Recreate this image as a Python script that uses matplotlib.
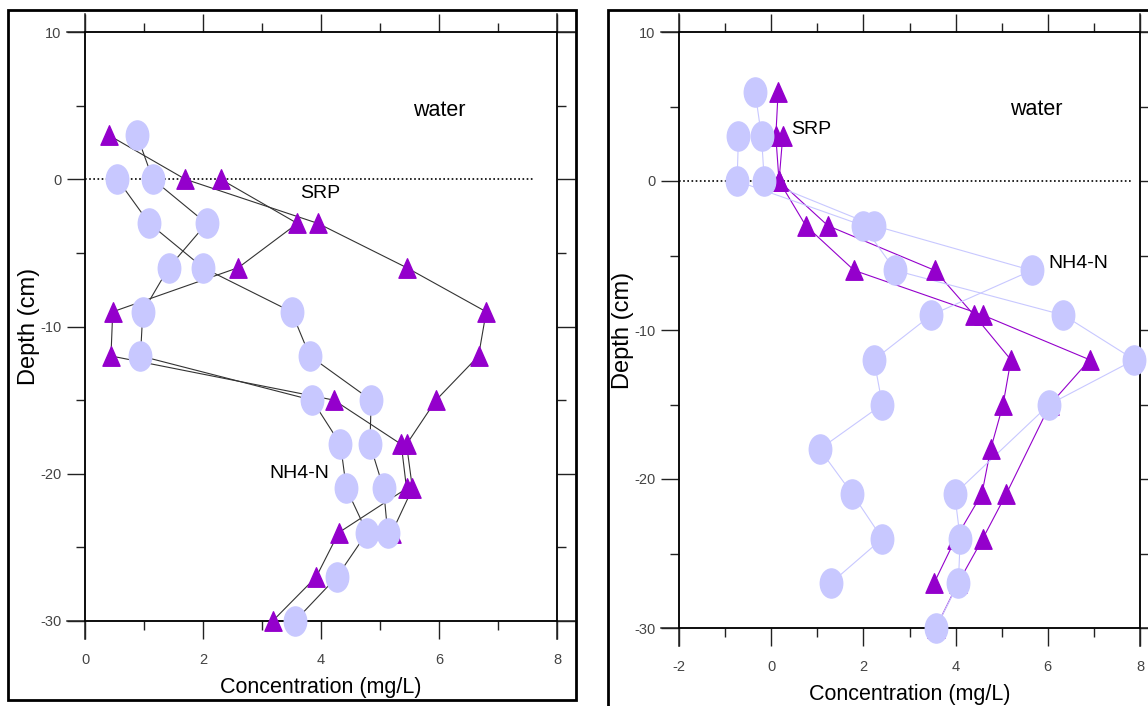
import matplotlib
matplotlib.use("Agg")
import matplotlib.pyplot as plt
from matplotlib.path import Path
from matplotlib.patches import Rectangle
from matplotlib.transforms import Affine2D

plt.rcParams['font.family'] = ['Liberation Sans', 'DejaVu Sans']
plt.rcParams['axes.unicode_minus'] = False

# ---- left profile (concentration mg/L vs depth cm)
left_srp_a_conc = [0.40, 1.70, 3.95, 5.45, 6.80, 6.67, 5.95, 5.45, 5.55, 5.20]
left_srp_a_depth = [3, 0, -3, -6, -9, -12, -15, -18, -21, -24]
left_srp_b_conc = [2.30, 3.60, 2.60, 0.47, 0.44, 4.22, 5.36, 5.45, 4.30, 3.92, 3.18]
left_srp_b_depth = [0, -3, -6, -9, -12, -15, -18, -21, -24, -27, -30]
left_nh4_a_conc = [0.88, 1.15, 2.06, 1.42, 0.98, 0.94, 3.85, 4.33, 4.43, 4.78, 4.27, 3.56]
left_nh4_a_depth = [3, 0, -3, -6, -9, -12, -15, -18, -21, -24, -27, -30]
left_nh4_b_conc = [0.55, 1.09, 2.00, 3.50, 3.81, 4.85, 4.83, 5.06, 5.13]
left_nh4_b_depth = [0, -3, -6, -9, -12, -15, -18, -21, -24]

# ---- right profile
right_srp_a_conc = [0.15, 0.10, 0.17, 0.75, 1.80, 4.59, 6.91, 6.05, 5.10, 4.59, 4.05, 3.57]
right_srp_a_depth = [6, 3, 0, -3, -6, -9, -12, -15, -21, -24, -27, -30]
right_srp_b_conc = [0.25, 0.17, 1.23, 3.55, 4.40, 5.20, 5.03, 4.76, 4.57, 4.00, 3.53]
right_srp_b_depth = [3, 0, -3, -6, -9, -12, -15, -18, -21, -24, -27]
right_nh4_a_conc = [-0.71, -0.74, 2.00, 2.69, 6.34, 7.88, 6.03, 3.98, 4.10, 4.06, 3.57]
right_nh4_a_depth = [3, 0, -3, -6, -9, -12, -15, -21, -24, -27, -30]
right_nh4_b_conc = [-0.35, -0.21, -0.15, 2.24, 5.65, 3.47, 2.23, 2.41, 1.05, 1.76, 2.41, 1.29]
right_nh4_b_depth = [6, 3, 0, -3, -6, -9, -12, -15, -18, -21, -24, -27]

# sediment-water interface (dotted) and its extent
interface_depth = 0
left_interface_span = [0, 7.6]
right_interface_span = [-2, 7.84]

# labels: (text, x, y, size)
left_labels = [("water", 6.0, 4.7, 15.5), ("SRP", 3.98, -1.0, 14), ("NH4-N", 3.63, -20.0, 14)]
right_labels = [("water", 5.75, 4.77, 15.5), ("SRP", 0.87, 3.43, 14), ("NH4-N", 6.66, -5.53, 14)]

PURPLE = '#9400CC'
LAVENDER = '#C8C8FF'

# squeezed markers, the original picture is narrower than tall
ellipse = Path.unit_circle().transformed(Affine2D().scale(0.77, 1.0))
triangle = Path([(-0.88, -1), (0.88, -1), (0, 1), (-0.88, -1)],
                [Path.MOVETO, Path.LINETO, Path.LINETO, Path.CLOSEPOLY])

fig = plt.figure(figsize=(11.48, 7.06), dpi=100)
W, H = 1148, 706

ax_l = fig.add_axes([85 / W, 1 - 621 / H, 472 / W, 589 / H])
ax_r = fig.add_axes([679 / W, 1 - 628 / H, 461 / W, 596 / H])


def style_axes(ax, xmin, xmax):
    ax.set_xlim(xmin, xmax)
    ax.set_ylim(-30, 10)
    ax.set_xticks(range(xmin, xmax + 1, 2))
    ax.set_xticks(range(xmin + 1, xmax, 2), minor=True)
    ax.set_yticks([-30, -20, -10, 0, 10])
    ax.set_yticks([-25, -15, -5, 5], minor=True)
    ax.tick_params(which='both', direction='out', top=True, right=True,
                   width=1.0, color='#222222', labelsize=10.5, labelcolor='#444444')
    ax.tick_params(which='major', length=13)
    ax.tick_params(which='minor', length=6.5)
    ax.tick_params(axis='x', pad=10)
    ax.tick_params(axis='y', pad=4)
    for s in ax.spines.values():
        s.set_linewidth(1.1)
    ax.set_xlabel("Concentration (mg/L)", fontsize=15.5, labelpad=7)
    ax.set_ylabel("Depth (cm)", fontsize=17, labelpad=0)
    # frame lines run on past the corners, as far as the ticks
    w_px = fig.get_figwidth() * fig.dpi * ax.get_position().width
    h_px = fig.get_figheight() * fig.dpi * ax.get_position().height
    ex, ey = 18 / w_px, 18 / h_px
    for y in (0, 1):
        ax.plot([-ex, 1 + ex], [y, y], transform=ax.transAxes, clip_on=False,
                color='#222222', lw=1.1)
    for x in (0, 1):
        ax.plot([x, x], [-ey, 1 + ey], transform=ax.transAxes, clip_on=False,
                color='#222222', lw=1.1)


def draw_profile(ax, srp, nh4, srp_line, nh4_line):
    for conc, depth in srp:
        ax.plot(conc, depth, color=srp_line, lw=0.8, zorder=2)
    for conc, depth in nh4:
        ax.plot(conc, depth, color=nh4_line, lw=0.8, zorder=2)
    for conc, depth in srp:
        ax.plot(conc, depth, ls='none', marker=triangle, ms=14, color=PURPLE,
                mec=PURPLE, zorder=3, clip_on=False)
    for conc, depth in nh4:
        ax.plot(conc, depth, ls='none', marker=ellipse, ms=21, color=LAVENDER,
                mec=LAVENDER, zorder=4, clip_on=False)


style_axes(ax_l, 0, 8)
style_axes(ax_r, -2, 8)

draw_profile(ax_l,
             [(left_srp_a_conc, left_srp_a_depth), (left_srp_b_conc, left_srp_b_depth)],
             [(left_nh4_a_conc, left_nh4_a_depth), (left_nh4_b_conc, left_nh4_b_depth)],
             '#333333', '#333333')
draw_profile(ax_r,
             [(right_srp_a_conc, right_srp_a_depth), (right_srp_b_conc, right_srp_b_depth)],
             [(right_nh4_a_conc, right_nh4_a_depth), (right_nh4_b_conc, right_nh4_b_depth)],
             PURPLE, LAVENDER)

ax_l.hlines(interface_depth, *left_interface_span, colors='black', linestyles=(0, (1, 1.5)), lw=1.2, zorder=1)
ax_r.hlines(interface_depth, *right_interface_span, colors='black', linestyles=(0, (1, 1.5)), lw=1.2, zorder=1)

for ax, labels in ((ax_l, left_labels), (ax_r, right_labels)):
    for txt, x, y, size in labels:
        ax.text(x, y, txt, fontsize=size, ha='center', va='center', zorder=5)

# outer panel frames
fig.add_artist(Rectangle((8 / W, 6 / H), 568 / W, 690 / H, transform=fig.transFigure,
                         fill=False, lw=2, ec='black'))
fig.add_artist(Rectangle((608 / W, -0.1), 0.6, 1.1 - 10 / H, transform=fig.transFigure,
                         fill=False, lw=2, ec='black'))

fig.savefig("out.png", dpi=100)
